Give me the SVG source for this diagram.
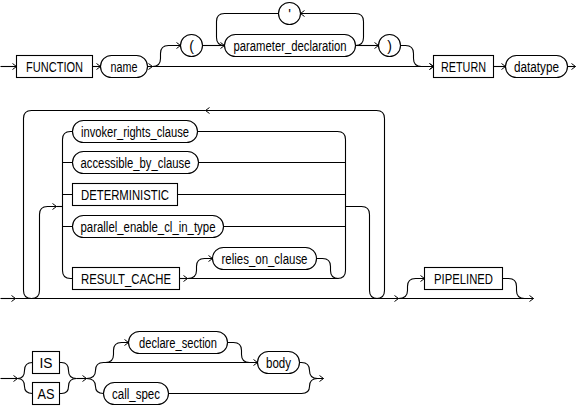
<svg xmlns="http://www.w3.org/2000/svg" width="579" height="407" viewBox="0 0 579 407">
<style>
.c{fill:none;stroke:#000;stroke-width:1.1}
.n{fill:#fff;stroke:#000;stroke-width:1.1}
text{font-family:"Liberation Sans",Arial,Helvetica,sans-serif;font-size:14px;fill:#000;text-anchor:middle}
</style>
<defs>
<marker id="ar" viewBox="-5 -4 6 8" markerWidth="6" markerHeight="8" refX="0" refY="0" orient="auto" markerUnits="userSpaceOnUse"><path d="M-4,-3 L0,0 L-4,3" fill="none" stroke="#000" stroke-width="1"/></marker>
</defs>
<rect width="579" height="407" fill="#fff"/>
<g transform="translate(0.5 0.5)">
<g id="connectors">
<path class="c" d="M0,66 H16" marker-end="url(#ar)"/>
<path class="c" d="M92,66 H100" marker-end="url(#ar)"/>
<path class="c" d="M147,66 H152" marker-end="url(#ar)"/>
<path class="c" d="M152,66 H433" marker-end="url(#ar)"/>
<path class="c" d="M152,66 Q160,66 160,58 V53 Q160,45 168,45 H180" marker-end="url(#ar)"/>
<path class="c" d="M202,45 H224" marker-end="url(#ar)"/>
<path class="c" d="M278,13 H224 Q216,13 216,21 V37 Q216,45 224,45"/>
<path class="c" d="M355,45 Q363,45 363,37 V21 Q363,13 355,13 H300" marker-end="url(#ar)"/>
<path class="c" d="M355,45 H378" marker-end="url(#ar)"/>
<path class="c" d="M400,45 H405 Q413,45 413,53 V58 Q413,66 421,66 H433" marker-end="url(#ar)"/>
<path class="c" d="M493,66 H505" marker-end="url(#ar)"/>
<path class="c" d="M567,66 H575" marker-end="url(#ar)"/>

<path class="c" d="M0,298 H15" marker-end="url(#ar)"/>
<path class="c" d="M15,298 H398" marker-end="url(#ar)"/>
<path class="c" d="M376,298 Q384,298 384,290 V118 Q384,110 376,110 H205" marker-end="url(#ar)"/>
<path class="c" d="M205,110 H31 Q23,110 23,118 V290 Q23,298 31,298"/>
<path class="c" d="M31,298 Q39,298 39,290 V214 Q39,206 47,206 H56" marker-end="url(#ar)"/>
<path class="c" d="M56,206 H62"/>
<path class="c" d="M72,131 H70 Q62,131 62,139 V270 Q62,278 70,278 H72"/>
<path class="c" d="M62,162 H72 M62,194 H72 M62,226 H72"/>
<path class="c" d="M197,131 H337 Q345,131 345,139 V270 Q345,278 337,278 H187"/>
<path class="c" d="M198,162 H345 M177,194 H345 M223,226 H345"/>
<path class="c" d="M179,278 H187" marker-end="url(#ar)"/>
<path class="c" d="M187,278 Q196,278 196,270 V266 Q196,258 204,258 H212" marker-end="url(#ar)"/>
<path class="c" d="M316,258 H322 Q330,258 330,266 V270 Q330,278 338,278"/>
<path class="c" d="M345,206 H361 Q369,206 369,214 V290 Q369,298 377,298"/>
<path class="c" d="M398,298 Q407,298 407,290 V286 Q407,278 415,278 H424" marker-end="url(#ar)"/>
<path class="c" d="M502,278 H508 Q516,278 516,286 V290 Q516,298 524,298"/>
<path class="c" d="M398,298 H533" marker-end="url(#ar)"/>

<path class="c" d="M0,378 H17" marker-end="url(#ar)"/>
<path class="c" d="M17,378 Q24,378 24,370 Q24,362 32,362"/>
<path class="c" d="M17,378 Q24,378 24,386 Q24,393 32,393"/>
<path class="c" d="M59,362 H61 Q68,362 68,370 Q68,378 76,378"/>
<path class="c" d="M59,393 H61 Q68,393 68,386 Q68,378 76,378"/>
<path class="c" d="M76,378 H86" marker-end="url(#ar)"/>
<path class="c" d="M86,378 Q95,378 95,370 Q95,362 103,362 H257" marker-end="url(#ar)"/>
<path class="c" d="M86,378 Q95,378 95,386 Q95,393 103,393"/>
<path class="c" d="M105,362 Q113,362 113,354 V350 Q113,342 121,342 H128" marker-end="url(#ar)"/>
<path class="c" d="M227,342 H233 Q241,342 241,350 V354 Q241,362 249,362"/>
<path class="c" d="M299,362 H301 Q309,362 309,370 Q309,378 317,378 H323" marker-end="url(#ar)"/>
<path class="c" d="M168,393 H301 Q309,393 309,386 Q309,378 317,378"/>
</g>

<g id="n-function"><rect class="n" x="16" y="55" width="76" height="22"/><text x="54" y="71" textLength="57" lengthAdjust="spacingAndGlyphs">FUNCTION</text></g>
<g id="n-name"><rect class="n" x="100" y="55" width="47" height="22" rx="11"/><text x="123.5" y="71" textLength="27" lengthAdjust="spacingAndGlyphs">name</text></g>
<g id="n-lparen"><circle class="n" cx="191" cy="45" r="11"/><text x="191" y="50">(</text></g>
<g id="n-param"><rect class="n" x="224" y="34" width="131" height="22" rx="11"/><text x="289.5" y="50" textLength="113" lengthAdjust="spacingAndGlyphs">parameter_declaration</text></g>
<g id="n-comma"><circle class="n" cx="289" cy="13" r="11"/><text x="289" y="18">'</text></g>
<g id="n-rparen"><circle class="n" cx="389" cy="45" r="11"/><text x="389" y="50">)</text></g>
<g id="n-return"><rect class="n" x="433" y="55" width="60" height="22"/><text x="463" y="71" textLength="45" lengthAdjust="spacingAndGlyphs">RETURN</text></g>
<g id="n-datatype"><rect class="n" x="505" y="55" width="62" height="22" rx="11"/><text x="536" y="71" textLength="45" lengthAdjust="spacingAndGlyphs">datatype</text></g>

<g id="n-invoker"><rect class="n" x="72" y="120" width="125" height="22" rx="11"/><text x="134.5" y="136" textLength="108" lengthAdjust="spacingAndGlyphs">invoker_rights_clause</text></g>
<g id="n-accessible"><rect class="n" x="72" y="151" width="126" height="22" rx="11"/><text x="135" y="167" textLength="110" lengthAdjust="spacingAndGlyphs">accessible_by_clause</text></g>
<g id="n-deterministic"><rect class="n" x="72" y="183" width="105" height="22"/><text x="124.5" y="199" textLength="88" lengthAdjust="spacingAndGlyphs">DETERMINISTIC</text></g>
<g id="n-parallel"><rect class="n" x="72" y="215" width="151" height="22" rx="11"/><text x="147.5" y="231" textLength="135" lengthAdjust="spacingAndGlyphs">parallel_enable_cl_in_type</text></g>
<g id="n-result-cache"><rect class="n" x="72" y="267" width="107" height="22"/><text x="125.5" y="283" textLength="90" lengthAdjust="spacingAndGlyphs">RESULT_CACHE</text></g>
<g id="n-relies"><rect class="n" x="212" y="247" width="104" height="22" rx="11"/><text x="264" y="263" textLength="86" lengthAdjust="spacingAndGlyphs">relies_on_clause</text></g>
<g id="n-pipelined"><rect class="n" x="424" y="267" width="78" height="22"/><text x="463" y="283" textLength="59" lengthAdjust="spacingAndGlyphs">PIPELINED</text></g>

<g id="n-is"><rect class="n" x="32" y="351" width="27" height="22"/><text x="45.5" y="367" textLength="13" lengthAdjust="spacingAndGlyphs">IS</text></g>
<g id="n-as"><rect class="n" x="32" y="382" width="27" height="22"/><text x="45.5" y="398" textLength="17" lengthAdjust="spacingAndGlyphs">AS</text></g>
<g id="n-declare"><rect class="n" x="128" y="331" width="99" height="22" rx="11"/><text x="177.5" y="347" textLength="78" lengthAdjust="spacingAndGlyphs">declare_section</text></g>
<g id="n-body"><rect class="n" x="257" y="351" width="42" height="22" rx="11"/><text x="278" y="367" textLength="25" lengthAdjust="spacingAndGlyphs">body</text></g>
<g id="n-callspec"><rect class="n" x="103" y="382" width="65" height="22" rx="11"/><text x="135.5" y="398" textLength="48" lengthAdjust="spacingAndGlyphs">call_spec</text></g>
</g>
</svg>
